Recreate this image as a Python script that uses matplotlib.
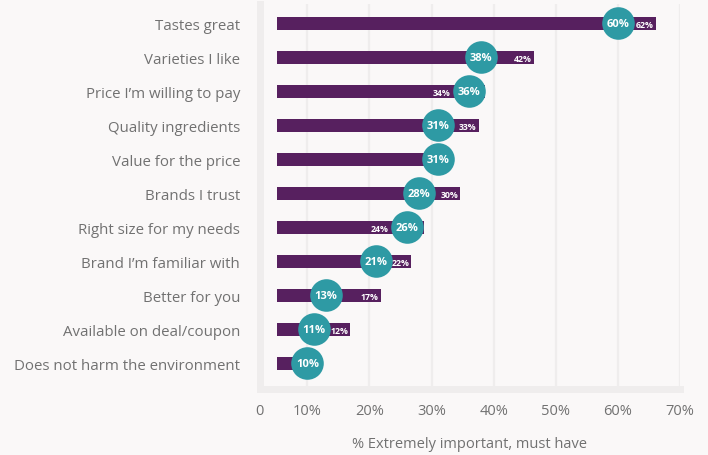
import matplotlib
matplotlib.use("Agg")
from matplotlib import pyplot as plt

# Dados
categorias = ["Tastes great", "Varieties I like", "Price I\u2019m willing to pay",
              "Quality ingredients", "Value for the price", "Brands I trust",
              "Right size for my needs", "Brand I\u2019m familiar with",
              "Better for you", "Available on deal/coupon",
              "Does not harm the environment"]
circulos = [60, 38, 36, 31, 31, 28, 26, 21, 13, 11, 10]
barras = [62, 42, 34, 33, 28, 30, 24, 22, 17, 12, 5]
rotulos_barras = ["62%", "42%", "34%", "33%", "", "30%", "24%", "22%", "17%", "12%", ""]
ticks = [10, 20, 30, 40, 50, 60, 70]
tick_labels = ["10%", "20%", "30%", "40%", "50%", "60%", "70%"]

ROXO = "#57205f"
VERDE = "#2e9aa4"
FUNDO = "#faf8f8"
CINZA = "#efeded"
TEXTO = "#717171"

plt.rcParams['font.family'] = ['Open Sans', 'DejaVu Sans']

fig = plt.figure(figsize=(7.08, 4.56), dpi=100, facecolor=FUNDO)
W, H = 708, 456
pos = [259.5 / W, 1 - 390 / H, (680 - 259.5) / W, (390 - 5) / H]
ax = fig.add_axes(pos)
ax.set_facecolor(FUNDO)

y = list(range(len(categorias)))
x0 = 2.3

# eixo principal: grade, ticks e rotulos
ax.set_xlim(x0, 70)
ax.set_ylim(10.76, -0.57)
ax.set_xticks([x0] + ticks)
ax.set_xticklabels(["0"] + tick_labels, color=TEXTO, fontsize=10.5)
ax.set_yticks(y)
ax.set_yticklabels(categorias, color=TEXTO, fontsize=10.8)
ax.tick_params(axis='both', length=0)
ax.tick_params(axis='x', pad=10)
ax.tick_params(axis='y', pad=14)
ax.grid(axis='x', color=CINZA, linewidth=1.6)
ax.set_axisbelow(True)
for s in ["top", "right"]:
    ax.spines[s].set_visible(False)
for s in ["left", "bottom"]:
    ax.spines[s].set_color(CINZA)
    ax.spines[s].set_linewidth(5)
ax.set_xlabel("% Extremely important, must have", color=TEXTO, fontsize=10.5, labelpad=13)

# barras em escala propria
escala = 6.11
ax_b = ax.twiny()
ax_b.set_xlim((259.5 - 277) / escala, (680 - 277) / escala)
ax_b.set_ylim(ax.get_ylim())
ax_b.axis("off")
ax_b.barh(y, barras, height=0.38, color=ROXO)

# circulos
ax_c = ax.twiny()
ax_c.set_xlim(ax.get_xlim())
ax_c.set_ylim(ax.get_ylim())
ax_c.axis("off")
ax_c.scatter(circulos, y, s=550, color=VERDE, zorder=3, linewidths=0)
for yi, v in zip(y, circulos):
    ax_c.text(v, yi, f"{v}%", color="white", fontsize=8, fontweight="bold",
              ha="center", va="center", zorder=4)

# rotulos das barras por cima de tudo
for yi, b, c, lab in zip(y, barras, circulos, rotulos_barras):
    if not lab:
        continue
    if b >= c:
        ax_c.annotate(lab, (b, yi), xycoords=ax_b.transData, xytext=(-2, -1),
                      textcoords="offset pixels", ha="right", va="center",
                      color="white", fontsize=6.3, fontweight="bold", zorder=5)
    else:
        ax_c.annotate(lab, (c, yi), xytext=(-18, -1), textcoords="offset pixels",
                      ha="right", va="center", color="white", fontsize=6.3,
                      fontweight="bold", zorder=5)

fig.savefig("out.png", dpi=100, facecolor=FUNDO)
